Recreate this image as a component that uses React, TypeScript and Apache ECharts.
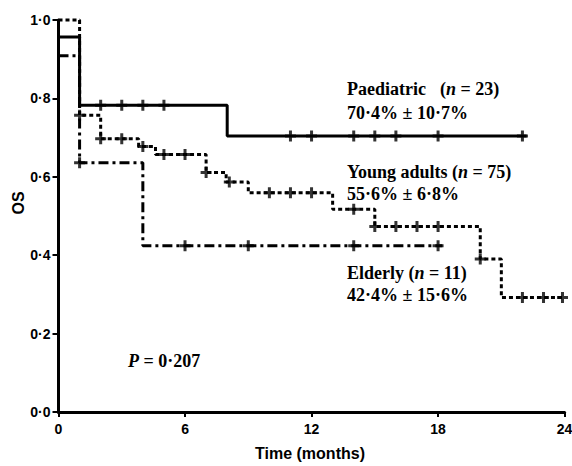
import React, { useEffect, useRef } from "react";
import * as echarts from "echarts";

// Kaplan–Meier step data (time in months, overall survival)
const paedTimes = [0, 1, 8, 22.2];
const paedSurv = [0.9565, 0.7826, 0.7043, 0.7043];
const paedCensor = [2, 3, 4, 5, 11, 12, 14, 15, 16, 18, 22];

const youngTimes = [0, 1, 2, 3.8, 4.6, 7, 7.95, 9, 13, 15, 20, 21, 24];
const youngSurv = [1.0, 0.757, 0.697, 0.677, 0.657, 0.611, 0.587, 0.559, 0.517, 0.473, 0.39, 0.292, 0.292];
const youngCensor = [1, 2, 3, 4, 5, 6, 7, 8.1, 10, 11, 12, 14, 15, 16, 17, 18, 20, 22, 23, 23.9];

const eldTimes = [0, 1, 4, 18.2];
const eldSurv = [0.909, 0.636, 0.424, 0.424];
const eldCensor = [1, 6, 9, 14, 18];

const xTicks = [0, 6, 12, 18, 24];

const SERIF = "'Liberation Serif', 'Times New Roman', serif";
const SANS = "'Liberation Sans', Arial, sans-serif";
const PLUS = "path://M4,0H7V4H11V7H7V11H4V7H0V4H4Z";

function steps(times: number[], surv: number[]) {
  return times.map((t, i) => [t, surv[i]]);
}
function censorPts(times: number[], surv: number[], cens: number[]) {
  return cens.map((c) => {
    let v = surv[0];
    for (let i = 0; i < times.length; i++) if (times[i] <= c) v = surv[i];
    return [c, v];
  });
}

export default function App() {
  const ref = useRef<HTMLDivElement>(null);
  useEffect(() => {
    document.body.style.margin = "0";
    const chart = echarts.init(ref.current!, null, { renderer: "svg" });
    const lineBase = { type: "line", step: "end", showSymbol: false, symbol: "none", clip: false, silent: true };
    const scatterBase = { type: "scatter", symbol: PLUS, symbolSize: 11, clip: false, itemStyle: { color: "#000" }, silent: true };
    const big = { fontFamily: SERIF, fontWeight: "bold", fontSize: 18, fill: "#000" };
    const bigI = { ...big, fontStyle: "italic" };
    const txt = (x: number, y: number, text: string, align = "left") => ({
      type: "text",
      x,
      y,
      style: { text, ...big, align, verticalAlign: "middle", rich: { b: big, i: bigI } },
    });
    chart.setOption({
      animation: false,
      grid: { left: 58.5, right: 7.4, top: 20, bottom: 54, containLabel: false, outerBoundsMode: "none" },
      xAxis: {
        type: "value",
        min: 0,
        max: 24,
        interval: 6,
        splitLine: { show: false },
        axisLine: { lineStyle: { color: "#000", width: 3 } },
        axisTick: { length: 5, lineStyle: { color: "#000", width: 2 } },
        axisLabel: {
          color: "#000",
          fontFamily: SANS,
          fontWeight: "bold",
          fontSize: 14,
          margin: 10,
          formatter: (v: number) => (xTicks.includes(v) ? String(v) : ""),
        },
      },
      yAxis: {
        type: "value",
        min: 0,
        max: 1,
        interval: 0.2,
        splitLine: { show: false },
        axisLine: { show: true, lineStyle: { color: "#000", width: 3 } },
        axisTick: { show: true, length: 6, lineStyle: { color: "#000", width: 2 } },
        axisLabel: {
          color: "#000",
          fontFamily: SANS,
          fontWeight: "bold",
          fontSize: 14,
          margin: 8,
          formatter: (v: number) => v.toFixed(1).replace(".", "·"),
        },
      },
      series: [
        { ...lineBase, name: "Paediatric", data: steps(paedTimes, paedSurv), lineStyle: { color: "#000", width: 3, type: "solid" } },
        { ...lineBase, name: "Young adults", data: steps(youngTimes, youngSurv), lineStyle: { color: "#000", width: 3, type: [4, 3] } },
        { ...lineBase, name: "Elderly", data: steps(eldTimes, eldSurv), lineStyle: { color: "#000", width: 3, type: [10, 4, 3, 4] } },
        { ...scatterBase, data: censorPts(paedTimes, paedSurv, paedCensor) },
        { ...scatterBase, data: censorPts(youngTimes, youngSurv, youngCensor) },
        { ...scatterBase, data: censorPts(eldTimes, eldSurv, eldCensor) },
      ],
      graphic: [
        txt(347, 89, "Paediatric"),
        txt(440, 89, "{b|(}{i|n}{b| = 23)}"),
        txt(347, 113, "70·4% ± 10·7%"),
        txt(347, 172, "{b|Young adults (}{i|n}{b| = 75)}"),
        txt(347, 194, "55·6% ± 6·8%"),
        txt(347, 273, "{b|Elderly (}{i|n}{b| = 11)}"),
        txt(347, 295, "42·4% ± 15·6%"),
        txt(128, 361, "{i|P}{b| = 0·207}"),
        {
          type: "text",
          x: 18,
          y: 203,
          rotation: Math.PI / 2,
          style: { text: "OS", fontFamily: SANS, fontWeight: "bold", fontSize: 16, fill: "#000", align: "center", verticalAlign: "middle" },
        },
        {
          type: "text",
          x: 310,
          y: 453,
          style: { text: "Time (months)", fontFamily: SANS, fontWeight: "bold", fontSize: 16, fill: "#000", align: "center", verticalAlign: "middle" },
        },
      ],
    });
    return () => chart.dispose();
  }, []);
  return <div ref={ref} style={{ width: 572, height: 466 }} />;
}
